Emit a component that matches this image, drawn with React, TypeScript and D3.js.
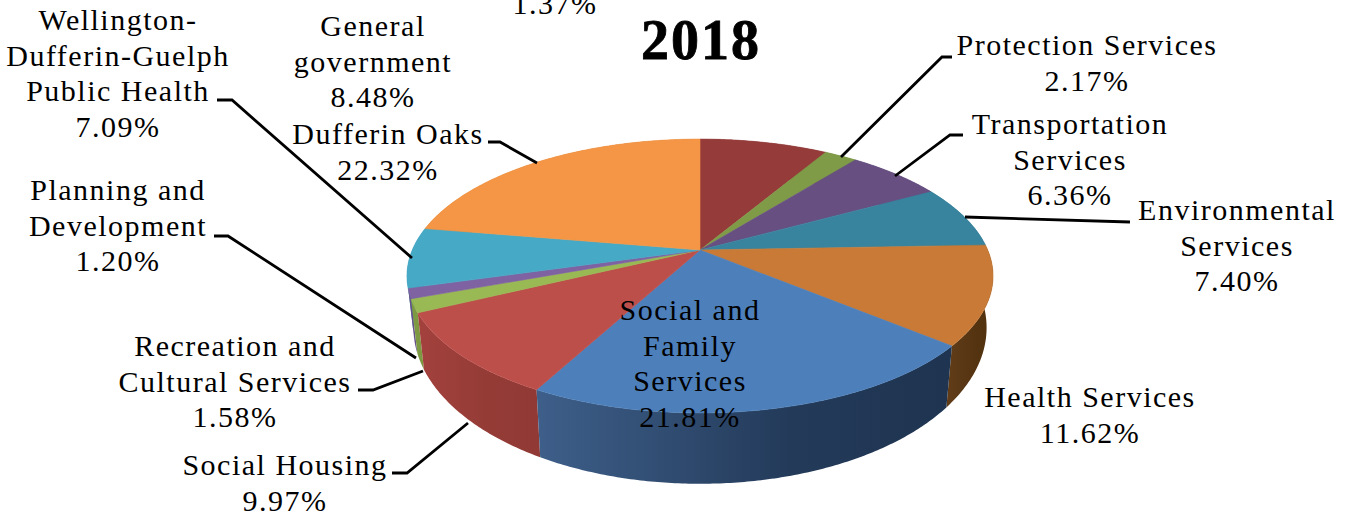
import React from 'react';
import * as d3 from 'd3';

const categories = [
  'General government', 'Protection Services', 'Transportation Services', 'Environmental Services',
  'Health Services', 'Social and Family Services', 'Social Housing', 'Recreation and Cultural Services',
  'Planning and Development', 'Wellington-Dufferin-Guelph Public Health', 'Dufferin Oaks',
];
const shares = [8.48, 2.17, 6.36, 7.4, 11.62, 21.81, 9.97, 1.58, 1.2, 7.09, 22.32];
const topColors = ['#953c3b', '#7f9b48', '#674f81', '#38849f', '#c87a36', '#4d7fbb', '#bd4f4b', '#98b954', '#7f62a2', '#46a9c6', '#f49645'];
const sideLeft = ['#7a3130', '#66803a', '#54406a', '#2d6b82', '#5f3b18', '#3e5f8a', '#a3413d', '#7d9a42', '#67508a', '#3a8ba3', '#c87a38'];
const sideRight = ['#7a3130', '#66803a', '#54406a', '#2d6b82', '#52310f', '#1e3450', '#913a35', '#7d9a42', '#67508a', '#3a8ba3', '#c87a38'];

// label blocks: centre x, first baseline, lines
const labels: { x: number; y: number; lines: string[] }[] = [
  { x: 555, y: 14, lines: ['1.37%'] },
  { x: 118, y: 30, lines: ['Wellington-', 'Dufferin-Guelph', 'Public Health', '7.09%'] },
  { x: 373, y: 36, lines: ['General', 'government', '8.48%'] },
  { x: 388, y: 144, lines: ['Dufferin Oaks', '22.32%'] },
  { x: 1087, y: 55, lines: ['Protection Services', '2.17%'] },
  { x: 1070, y: 134, lines: ['Transportation', 'Services', '6.36%'] },
  { x: 1237, y: 220, lines: ['Environmental', 'Services', '7.40%'] },
  { x: 1090, y: 407, lines: ['Health Services', '11.62%'] },
  { x: 118, y: 200, lines: ['Planning and', 'Development', '1.20%'] },
  { x: 235, y: 356, lines: ['Recreation and', 'Cultural Services', '1.58%'] },
  { x: 285, y: 475, lines: ['Social Housing', '9.97%'] },
];
const innerLabel = { x: 690, y: 320, lines: ['Social and', 'Family', 'Services', '21.81%'] };

const leaders: [number, number][][] = [
  [[841, 157], [942, 57], [952, 57]],
  [[895, 176], [950, 135], [963, 135]],
  [[965, 217], [1130, 222]],
  [[537, 163], [500, 142], [488, 142]],
  [[412, 258], [232, 100], [217, 100]],
  [[416, 358], [228, 236], [214, 236]],
  [[423, 371], [373, 390], [358, 390]],
  [[468, 423], [407, 473], [392, 473]],
];

const apexX = 700;
const apexY = 250;
const faceA = 287.7;
const faceB = 132;
const tilt = 0.19;

// circle seen in perspective, so the apex sits above the middle of the ellipse
const topPoint = (a: number): [number, number] => {
  const u = Math.sin(a);
  const v = -Math.cos(a);
  const w = 1 - tilt * v;
  return [apexX + (faceA * u) / w, apexY + (faceB * v) / w];
};
const bottomPoint = (a: number): [number, number] => {
  const [x, y] = topPoint(a);
  return [apexX + (x - apexX) * 0.978, apexY + 48 + (y - apexY) * 1.14];
};

const sweep = (start: number, end: number) => [...d3.range(start, end, 0.01), end];
const line = d3.line();

const slices = d3.pie<number>().sort(null).value((d) => d)(shares);

const topPath = (s: d3.PieArcDatum<number>) =>
  line([[apexX, apexY], ...sweep(s.startAngle, s.endAngle).map(topPoint)]) + 'Z';
const sidePath = (s: d3.PieArcDatum<number>) => {
  const angles = sweep(s.startAngle, s.endAngle);
  return line([...angles.map(topPoint), ...angles.slice().reverse().map(bottomPoint)]) + 'Z';
};

// back to front
const sideOrder = slices
  .slice()
  .sort((a, b) => Math.cos((b.startAngle + b.endAngle) / 2) - Math.cos((a.startAngle + a.endAngle) / 2));

const fontFamily = '"Liberation Serif", serif';
const lineHeight = 35.6;

const TextBlock: React.FC<{ x: number; y: number; lines: string[] }> = ({ x, y, lines }) => (
  <text textAnchor="middle" fontFamily={fontFamily} fontSize={30} letterSpacing={1.5} fill="#000">
    {lines.map((l, i) => (
      <tspan key={i} x={x} y={y + i * lineHeight}>{l}</tspan>
    ))}
  </text>
);

const App: React.FC = () => (
  <svg width={1353} height={522} style={{ position: 'absolute', left: 0, top: 0, background: '#fff' }}>
    <defs>
      {slices.map((s, i) => {
        const xs = sweep(s.startAngle, s.endAngle).map((a) => topPoint(a)[0]);
        return (
          <linearGradient key={i} id={`side${i}`} gradientUnits="userSpaceOnUse"
            x1={d3.min(xs)} x2={d3.max(xs)} y1={0} y2={0}>
            <stop offset="0" stopColor={sideLeft[i]} />
            <stop offset="0.62" stopColor={d3.interpolateRgb(sideLeft[i], sideRight[i])(0.85)} />
            <stop offset="1" stopColor={sideRight[i]} />
          </linearGradient>
        );
      })}
    </defs>
    {sideOrder.map((s) => (
      <path key={s.index} d={sidePath(s)} fill={`url(#side${s.index})`} />
    ))}
    {slices.map((s, i) => (
      <path key={categories[i]} d={topPath(s)} fill={topColors[i]} stroke={topColors[i]} strokeWidth={0.6} />
    ))}
    {leaders.map((pts, i) => (
      <path key={i} d={line(pts) ?? ''} fill="none" stroke="#000" strokeWidth={2.8} />
    ))}
    {labels.map((l) => (
      <TextBlock key={l.lines.join()} {...l} />
    ))}
    <TextBlock {...innerLabel} />
    <text x={701} y={59} textAnchor="middle" fontFamily={fontFamily} fontSize={56} fontWeight="bold"
      letterSpacing={2} stroke="#000" strokeWidth={0.8} fill="#000">
      2018
    </text>
  </svg>
);

export default App;
